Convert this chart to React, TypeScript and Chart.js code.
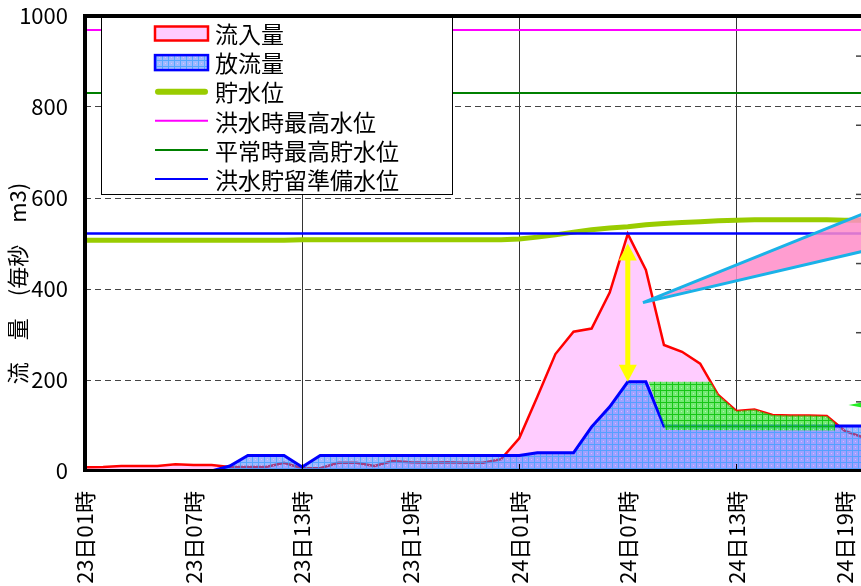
import React, { useEffect, useRef } from 'react';
import { Chart, registerables } from 'chart.js';

Chart.register(...registerables);

const FONT = '"Noto Sans CJK JP", "Noto Sans", sans-serif';

// x value = hours elapsed since 23日01時
const TICK_LABELS = ['23日01時', '23日07時', '23日13時', '23日19時', '24日01時', '24日07時', '24日13時', '24日19時'];
const LAST_HOUR = 43; // 24日20時

const INFLOW = [
  8, 9, 11, 11, 11, 15, 13, 13, 9, 9,
  9, 18, 6, 6, 18, 18, 11, 22, 19, 18,
  19, 18, 18, 26, 72, 163, 257, 306, 313, 392,
  521, 442, 277, 262, 236, 167, 132, 135, 123, 122,
  122, 121, 88, 74,
];
const OUTFLOW = [
  0, 0, 0, 0, 0, 0, 0, 0, 11, 34,
  34, 34, 9, 34, 34, 34, 34, 34, 34, 34,
  34, 34, 34, 34, 34, 40, 40, 40, 97, 141,
  196, 196, 99, 99, 99, 99, 99, 99, 99, 99,
  99, 99, 99, 99,
];
const STORAGE = [
  507, 507, 507, 507, 507, 507, 507, 507, 507, 507,
  507, 507, 508, 508, 508, 508, 508, 508, 508, 508,
  508, 508, 508, 508, 510, 514, 519, 525, 530, 534,
  537, 541, 544, 546, 548, 550, 551, 552, 552, 552,
  552, 552, 551, 551,
];
const FLOOD_MAX_LEVEL = 969;
const NORMAL_MAX_LEVEL = 831;
const FLOOD_PREP_LEVEL = 522;

// green (cut / stored) area
const CUT_TOP_X = [31.15, 34.57, 35, 36, 37, 38, 39, 40, 41, 41.45];
const CUT_TOP_Y = [196, 196, 167, 132, 135, 123, 122, 122, 121, 106];
const CUT_BASE_X = [31.15, 32.1, 41.45];
const CUT_BASE_Y = [196, 90, 89];

// annotations (in data units)
const PEAK_ARROW = { x: 30, from: 500, to: 196 };
const CALLOUT_X = [30.84, 43, 43]; // tip, upper end, lower end
const CALLOUT_Y = [370, 565, 483];
const SIDE_ARROW = { x: 42.2, y: 145 };

const LEGEND_LABELS = ['流入量', '放流量', '貯水位', '洪水時最高水位', '平常時最高貯水位', '洪水貯留準備水位'];
const Y_TITLE = '流　量　(毎秒　m3)';

const series = (vals: number[]) => vals.map((v, i) => ({ x: i, y: v }));
const pts = (xs: number[], ys: number[]) => xs.map((x, i) => ({ x, y: ys[i] }));

export default function App() {
  const ref = useRef<HTMLCanvasElement>(null);

  useEffect(() => {
    const canvas = ref.current!;
    const mainCtx = canvas.getContext('2d')!;
    const mkPattern = (base: string, line: string, dot: string | null) => {
      const c = document.createElement('canvas');
      c.width = 6;
      c.height = 6;
      const g = c.getContext('2d')!;
      g.fillStyle = base;
      g.fillRect(0, 0, 6, 6);
      g.fillStyle = line;
      g.fillRect(0, 0, 6, 1);
      g.fillRect(0, 1, 1, 5);
      if (dot) {
        g.fillStyle = dot;
        g.fillRect(3, 3, 1, 1);
      }
      return mainCtx.createPattern(c, 'repeat')!;
    };
    const bluePattern = mkPattern('rgba(70,120,255,0.52)', 'rgba(60,160,255,0.75)', 'rgba(255,200,255,0.6)');
    const greenPattern = mkPattern('rgba(50,245,50,0.68)', 'rgba(0,190,0,0.8)', 'rgba(200,255,200,0.7)');

    const annotations = {
      id: 'annotations',
      afterDatasetsDraw(chart: any) {
        const { ctx } = chart;
        const xs = chart.scales.x;
        const ys = chart.scales.y;
        ctx.save();
        // callout wedge
        const cx = CALLOUT_X.map((v) => xs.getPixelForValue(v));
        const cy = CALLOUT_Y.map((v) => ys.getPixelForValue(v));
        ctx.beginPath();
        ctx.moveTo(cx[1], cy[1]);
        ctx.lineTo(cx[0], cy[0]);
        ctx.lineTo(cx[2], cy[2]);
        ctx.closePath();
        ctx.fillStyle = 'rgba(255,140,200,0.85)';
        ctx.fill();
        ctx.beginPath();
        ctx.moveTo(cx[1], cy[1]);
        ctx.lineTo(cx[0], cy[0]);
        ctx.lineTo(cx[2], cy[2]);
        ctx.strokeStyle = '#1ab2e8';
        ctx.lineWidth = 3;
        ctx.lineJoin = 'miter';
        ctx.stroke();

        // yellow double arrow
        const ax = xs.getPixelForValue(PEAK_ARROW.x);
        const ay1 = ys.getPixelForValue(PEAK_ARROW.from);
        const ay2 = ys.getPixelForValue(PEAK_ARROW.to);
        const hl = 17, hw = 9;
        ctx.fillStyle = '#ffff00';
        ctx.fillRect(ax - 2.5, ay1 + hl - 1, 5, ay2 - ay1 - 2 * hl + 2);
        ctx.beginPath();
        ctx.moveTo(ax, ay1);
        ctx.lineTo(ax - hw, ay1 + hl);
        ctx.lineTo(ax + hw, ay1 + hl);
        ctx.closePath();
        ctx.fill();
        ctx.beginPath();
        ctx.moveTo(ax, ay2);
        ctx.lineTo(ax - hw, ay2 - hl);
        ctx.lineTo(ax + hw, ay2 - hl);
        ctx.closePath();
        ctx.fill();

        // small green arrow at right edge
        const gx = xs.getPixelForValue(SIDE_ARROW.x);
        const gy = ys.getPixelForValue(SIDE_ARROW.y);
        ctx.fillStyle = '#22ee22';
        ctx.beginPath();
        ctx.moveTo(gx, gy);
        ctx.lineTo(gx + 16, gy - 3);
        ctx.lineTo(gx + 16, gy + 3);
        ctx.closePath();
        ctx.fill();
        ctx.restore();
      },
    };

    const frameAndLegend = {
      id: 'frameAndLegend',
      afterDraw(chart: any) {
        const { ctx, chartArea: ca } = chart;
        const xs = chart.scales.x;
        const y2 = chart.scales.y2;
        ctx.save();

        // inward tick marks
        ctx.strokeStyle = '#000';
        ctx.lineWidth = 1;
        xs.ticks.forEach((t: any) => {
          if (t.value > 0 && t.value % 12 === 0) {
            const px = Math.round(xs.getPixelForValue(t.value)) + 0.5;
            ctx.beginPath();
            ctx.moveTo(px, ca.bottom - 7);
            ctx.lineTo(px, ca.bottom);
            ctx.stroke();
          }
        });
        ctx.strokeStyle = '#444';
        ctx.lineWidth = 1.5;
        y2.ticks.forEach((t: any) => {
          if (t.value > 0) {
            const py = y2.getPixelForValue(t.value);
            ctx.beginPath();
            ctx.moveTo(ca.right - 7, py);
            ctx.lineTo(ca.right, py);
            ctx.stroke();
          }
        });

        // legend box
        const x0 = ca.left + 16, y0 = ca.top + 1, w = 352, h = 178;
        ctx.fillStyle = '#fff';
        ctx.fillRect(x0, y0, w, h);
        ctx.strokeStyle = '#000';
        ctx.lineWidth = 1;
        ctx.strokeRect(x0 + 0.5, y0 + 0.5, w - 1, h - 1);
        const sx0 = x0 + 54, sx1 = x0 + 107, tx = x0 + 114;
        ctx.font = `23px ${FONT}`;
        ctx.textBaseline = 'middle';
        ctx.textAlign = 'left';
        LEGEND_LABELS.forEach((label, k) => {
          const cy = y0 + 16.5 + k * 29.1;
          if (k === 0) {
            ctx.fillStyle = '#ffccff';
            ctx.fillRect(sx0, cy - 7, sx1 - sx0, 14);
            ctx.strokeStyle = '#ff0000';
            ctx.lineWidth = 2.5;
            ctx.strokeRect(sx0, cy - 7, sx1 - sx0, 14);
          } else if (k === 1) {
            ctx.fillStyle = '#fff';
            ctx.fillRect(sx0, cy - 7.5, sx1 - sx0, 15);
            ctx.fillStyle = bluePattern;
            ctx.fillRect(sx0, cy - 7.5, sx1 - sx0, 15);
            ctx.strokeStyle = '#0000ff';
            ctx.lineWidth = 2.5;
            ctx.strokeRect(sx0, cy - 7.5, sx1 - sx0, 15);
          } else {
            const colors = ['', '', '#99cc00', '#ff00ff', '#008000', '#0000ff'];
            ctx.strokeStyle = colors[k];
            ctx.lineWidth = k === 2 ? 6 : 2;
            ctx.lineCap = k === 2 ? 'round' : 'butt';
            ctx.beginPath();
            ctx.moveTo(sx0 + (k === 2 ? 3 : 0), cy);
            ctx.lineTo(sx1 - (k === 2 ? 3 : 0), cy);
            ctx.stroke();
            ctx.lineCap = 'butt';
          }
          ctx.fillStyle = '#000';
          ctx.fillText(label, tx, cy + 1);
        });

        // heavy frame
        ctx.strokeStyle = '#000';
        ctx.lineWidth = 4;
        ctx.beginPath();
        ctx.moveTo(ca.left, ca.bottom);
        ctx.lineTo(ca.left, ca.top);
        ctx.lineTo(ca.right + 2, ca.top);
        ctx.stroke();
        ctx.lineWidth = 3;
        ctx.beginPath();
        ctx.moveTo(ca.left - 2, ca.bottom - 0.5);
        ctx.lineTo(ca.right + 2, ca.bottom - 0.5);
        ctx.stroke();

        // y-axis title
        ctx.save();
        ctx.translate(chart.scales.y.left + 18, (ca.top + ca.bottom) / 2 + 40);
        ctx.rotate(-Math.PI / 2);
        ctx.font = `22px ${FONT}`;
        ctx.textAlign = 'center';
        ctx.textBaseline = 'middle';
        ctx.fillStyle = '#000';
        ctx.fillText(Y_TITLE, 0, 0);
        ctx.restore();

        ctx.restore();
      },
    };

    const transparent = 'rgba(0,0,0,0)';
    const chart = new Chart(canvas, {
      type: 'line',
      data: {
        datasets: [
          { label: LEGEND_LABELS[3], data: [{ x: 0, y: FLOOD_MAX_LEVEL }, { x: LAST_HOUR, y: FLOOD_MAX_LEVEL }], borderColor: '#ff00ff', borderWidth: 2, fill: false, order: 1 },
          { label: LEGEND_LABELS[4], data: [{ x: 0, y: NORMAL_MAX_LEVEL }, { x: LAST_HOUR, y: NORMAL_MAX_LEVEL }], borderColor: '#008000', borderWidth: 2, fill: false, order: 1 },
          { label: LEGEND_LABELS[5], data: [{ x: 0, y: FLOOD_PREP_LEVEL }, { x: LAST_HOUR, y: FLOOD_PREP_LEVEL }], borderColor: '#0000ff', borderWidth: 2.5, fill: false, order: 1 },
          { label: LEGEND_LABELS[2], data: series(STORAGE), borderColor: '#99cc00', borderWidth: 5, borderCapStyle: 'round', borderJoinStyle: 'round', fill: false, order: 2 },
          { label: 'cut', data: pts(CUT_TOP_X, CUT_TOP_Y), borderColor: transparent, borderWidth: 0, backgroundColor: greenPattern, fill: 5, order: 3 },
          { label: 'cutBase', data: pts(CUT_BASE_X, CUT_BASE_Y), borderColor: transparent, borderWidth: 0, fill: false, order: 3 },
          { label: LEGEND_LABELS[1], data: series(OUTFLOW), borderColor: '#0000ff', borderWidth: 3, backgroundColor: bluePattern, fill: 'origin', order: 4 },
          { label: LEGEND_LABELS[0], data: series(INFLOW), borderColor: '#ff0000', borderWidth: 2.5, backgroundColor: '#ffccff', fill: 'origin', order: 5 },
        ] as any,
      },
      options: {
        responsive: false,
        animation: false,
        layout: { padding: { top: 16, right: 37, left: 0, bottom: 0 } },
        elements: { line: { tension: 0 }, point: { radius: 0 } },
        plugins: { legend: { display: false }, tooltip: { enabled: false } },
        scales: {
          x: {
            type: 'linear',
            min: 0,
            max: LAST_HOUR,
            afterFit: (s: any) => { s.height = 115; s.paddingLeft = 0; s.paddingRight = 0; },
            ticks: {
              stepSize: 6,
              includeBounds: false,
              autoSkip: false,
              minRotation: 90,
              maxRotation: 90,
              padding: 20,
              color: '#000',
              font: { family: FONT, size: 22 },
              callback: (v: any) => (v % 6 === 0 ? TICK_LABELS[v / 6] : ''),
            },
            grid: {
              drawTicks: false,
              lineWidth: 1,
              color: (c: any) => (c.tick && c.tick.value > 0 && c.tick.value % 12 === 0 ? '#333' : transparent),
            },
            border: { display: false },
          },
          y: {
            min: 0,
            max: 1000,
            afterFit: (s: any) => { s.width = 85; s.paddingTop = 0; s.paddingBottom = 0; },
            ticks: { stepSize: 200, padding: 17, color: '#000', font: { family: FONT, size: 22 }, callback: (v: any) => String(v) },
            grid: {
              drawTicks: false,
              lineWidth: 1,
              color: (c: any) => (c.tick && c.tick.value > 0 && c.tick.value < 1000 ? '#444' : transparent),
            },
            border: { display: false, dash: [6, 4] },
          },
          y2: {
            position: 'right',
            min: 0,
            max: 6.58,
            afterFit: (s: any) => { s.width = 0; s.paddingTop = 0; s.paddingBottom = 0; },
            ticks: { display: false, stepSize: 1 },
            grid: { display: false },
            border: { display: false },
          },
        },
      } as any,
      plugins: [annotations, frameAndLegend],
    });
    return () => chart.destroy();
  }, []);

  return (
    <div style={{ position: 'fixed', left: 0, top: 0, width: 861, height: 586, overflow: 'hidden', background: '#fff' }}>
      <canvas ref={ref} width={900} height={586} style={{ display: 'block', width: 900, height: 586 }} />
    </div>
  );
}
